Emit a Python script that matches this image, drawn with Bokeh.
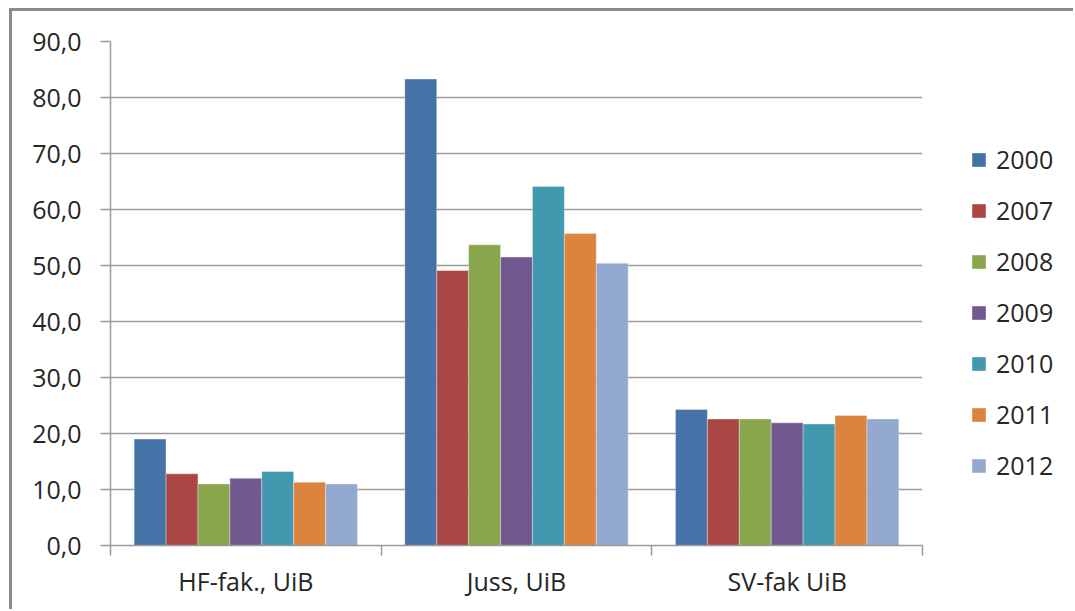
from bokeh.plotting import figure
from bokeh.layouts import row
from bokeh.models import (FactorRange, Range1d, LinearAxis, FixedTicker, Legend,
                          LegendItem, ColumnDataSource)
from bokeh.transform import dodge
from bokeh.embed import file_html
from bokeh.resources import INLINE

categories = ["HF-fak., UiB", "Juss, UiB", "SV-fak UiB"]
years = ["2000", "2007", "2008", "2009", "2010", "2011", "2012"]
v2000 = [19.0, 83.3, 24.3]
v2007 = [12.8, 49.1, 22.6]
v2008 = [11.0, 53.7, 22.6]
v2009 = [12.0, 51.5, 21.9]
v2010 = [13.2, 64.1, 21.7]
v2011 = [11.3, 55.7, 23.2]
v2012 = [11.0, 50.4, 22.6]
series = [v2000, v2007, v2008, v2009, v2010, v2011, v2012]
colors = ["#4572A7", "#AA4643", "#89A54E", "#71588F", "#4198AF", "#DB843D", "#93A9CF"]
y_ticks = [0, 10, 20, 30, 40, 50, 60, 70, 80, 90]
y_labels = ["0,0", "10,0", "20,0", "30,0", "40,0", "50,0", "60,0", "70,0", "80,0", "90,0"]

FONT = "Open Sans"
TXT = "#262626"
GRID = "#9a9a9a"
H = 598

xr = FactorRange(*categories)
p = figure(x_range=xr, y_range=Range1d(0, 90),
           width=920, height=H, output_backend="svg", toolbar_location=None,
           x_axis_location=None,
           min_border_left=98, min_border_right=10, min_border_top=30, min_border_bottom=64)
p.outline_line_color = None
p.background_fill_color = "white"
p.border_fill_color = "white"

# numeric axis on the factor range's synthetic coordinates:
# labels at the category centres, small ticks at the category boundaries
xa = LinearAxis(ticker=FixedTicker(ticks=[i + 0.5 for i in range(len(categories))],
                                   minor_ticks=list(range(len(categories) + 1))),
                major_label_overrides={i + 0.5: c for i, c in enumerate(categories)})
xa.axis_line_color = GRID
xa.axis_line_width = 1.5
xa.major_tick_line_color = None
xa.major_tick_out = 10
xa.major_tick_in = 0
xa.minor_tick_line_color = GRID
xa.minor_tick_line_width = 1.5
xa.minor_tick_out = 10
xa.minor_tick_in = 0
xa.major_label_standoff = 8
xa.major_label_text_font = FONT
xa.major_label_text_font_size = "25px"
xa.major_label_text_color = TXT
p.add_layout(xa, "below")

ya = p.yaxis[0]
ya.ticker = FixedTicker(ticks=y_ticks)
ya.major_label_overrides = {t: l for t, l in zip(y_ticks, y_labels)}
ya.axis_line_color = GRID
ya.axis_line_width = 1.5
ya.major_tick_line_color = GRID
ya.major_tick_line_width = 1.5
ya.major_tick_out = 10
ya.major_tick_in = 0
ya.minor_tick_line_color = None
ya.major_label_standoff = 19
ya.major_label_text_font = FONT
ya.major_label_text_font_size = "25px"
ya.major_label_text_color = TXT

p.xgrid.visible = False
p.ygrid.grid_line_color = GRID
p.ygrid.grid_line_width = 1.5

# legend panel to the right of the chart: it shares the categories and the
# series' sources; its bars are zero-sized so only the legend shows
lp = figure(width=141, height=H, x_range=xr, y_range=Range1d(-300, -200),
            output_backend="svg", toolbar_location=None,
            x_axis_location=None, y_axis_location=None,
            min_border_left=0, min_border_right=0, min_border_top=0, min_border_bottom=0)
lp.xgrid.visible = False
lp.ygrid.visible = False
lp.outline_line_color = None
lp.background_fill_color = "white"
lp.border_fill_color = "white"

bar_w = 0.1179
items = []
for i, (yr, vals, col) in enumerate(zip(years, series, colors)):
    src = ColumnDataSource(dict(cat=categories, v=vals))
    p.vbar(x=dodge("cat", (i - 3) * bar_w, range=xr), top="v", width=bar_w,
           source=src, fill_color=col, line_color="white", line_alpha=0.35, line_width=1)
    r = lp.vbar(x="cat", top="v", bottom="v", width=0, source=src,
                fill_color=col, line_color=None)
    items.append(LegendItem(label=yr, renderers=[r]))

legend = Legend(items=items, location=(38, 63))
legend.glyph_width = 17
legend.glyph_height = 17
legend.label_standoff = 9
legend.label_text_font = FONT
legend.label_text_font_size = "25px"
legend.label_text_color = TXT
legend.label_height = 34
legend.spacing = 17
legend.padding = 0
legend.margin = 0
legend.border_line_color = None
legend.background_fill_alpha = 0
lp.add_layout(legend)

layout = row(p, lp)
layout.styles = {"margin-left": "9px", "margin-top": "8px",
                 "border-left": "3px solid #8c8c8c", "border-top": "3px solid #8c8c8c"}

open("out.html", "w").write(file_html(layout, INLINE))
